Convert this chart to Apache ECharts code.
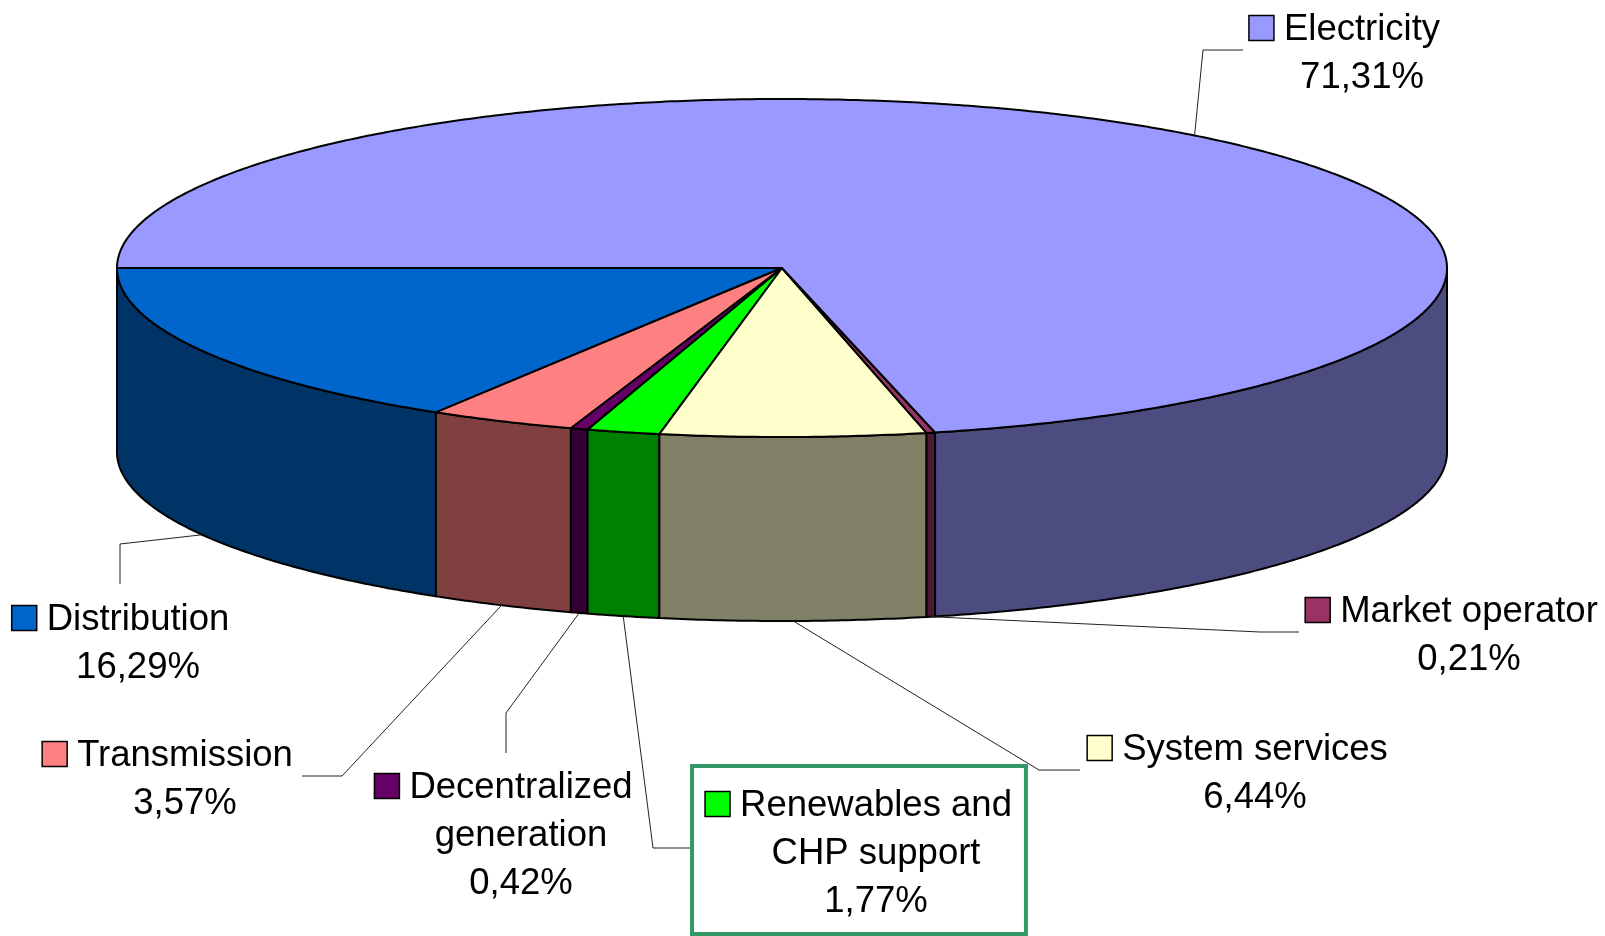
<!DOCTYPE html>
<html><head><meta charset="utf-8">
<script src="https://cdn.jsdelivr.net/npm/echarts@6/dist/echarts.min.js"></script>
<style>html,body{margin:0;padding:0;background:#fff}#chart{width:1605px;height:936px}</style>
</head><body><div id="chart"></div>
<script>
// ---- data ----
const categories = ['Distribution', 'Transmission', 'Decentralized\ngeneration', 'Renewables and\nCHP support', 'System services', 'Market operator', 'Electricity'];
const shares = [16.29, 3.57, 0.42, 1.77, 6.44, 0.21, 71.31];

// ---- styles / layout ----
const topColors  = ['#0066CC', '#FF8080', '#660066', '#00FF00', '#FFFFCC', '#993366', '#9999FF'];
const sideColors = ['#003366', '#804040', '#330033', '#008000', '#808066', '#4C1933', '#4C4C80'];
const PIE = { cx: 782, cy: 268, rx: 665, ry: 169, depth: 184, startDeg: 180 };
const labelPos = [[138, 620], [185, 756], [521, 788], [876, 806], [1255, 750], [1469, 612], [1362, 30]];
const leaderPts = [
  [[120, 544], [120, 584]],
  [[342, 776], [302, 776]],
  [[506, 713], [506, 753]],
  [[653, 848], [692, 848]],
  [[1039, 770], [1080, 770]],
  [[1260, 632], [1299, 632]],
  [[1203, 50], [1243, 50]]
];
const boxed = [false, false, false, true, false, false, false];
const FONT_SIZE = 36.5, LINE_H = 48;
const FONT = FONT_SIZE + 'px "Liberation Sans", Arial, sans-serif';

// ---- geometry from data ----
const total = shares.reduce((a, b) => a + b, 0);
const angles = [];
(function () {
  let cum = 0;
  shares.forEach(v => {
    const s = PIE.startDeg - cum / total * 360;
    cum += v;
    const e = PIE.startDeg - cum / total * 360;
    angles.push([s, e]);
  });
})();
const rad = d => d * Math.PI / 180;
function pt(t, dy) { return [PIE.cx + PIE.rx * Math.cos(rad(t)), PIE.cy + dy + PIE.ry * Math.sin(rad(t))]; }
function arc(t0, t1, dy) {
  const n = Math.max(2, Math.ceil(Math.abs(t1 - t0) / 0.5));
  const out = [];
  for (let i = 0; i <= n; i++) out.push(pt(t0 + (t1 - t0) * i / n, dy));
  return out;
}

const measureCtx = document.createElement('canvas').getContext('2d');
measureCtx.font = FONT;

function renderSide(params) {
  const i = params.dataIndex;
  const [s, e] = angles[i];
  const a = Math.max(e, 0), b = Math.min(s, 180);
  if (a >= b) return { type: 'group', children: [] };
  const points = arc(b, a, 0).concat(arc(a, b, PIE.depth));
  return {
    type: 'polygon', shape: { points },
    style: { fill: sideColors[i], stroke: '#000', lineWidth: 2, lineJoin: 'round' }
  };
}
function renderTop(params) {
  const i = params.dataIndex;
  const [s, e] = angles[i];
  const points = [[PIE.cx, PIE.cy]].concat(arc(s, e, 0));
  return {
    type: 'polygon', shape: { points },
    style: { fill: topColors[i], stroke: '#000', lineWidth: 2, lineJoin: 'round' }
  };
}
function renderLabel(params) {
  const i = params.dataIndex;
  const [s, e] = angles[i];
  const mid = (s + e) / 2;
  const m = ((mid % 360) + 360) % 360;
  const front = m > 0 && m < 180;
  const anchor = pt(mid, front ? PIE.depth : 0);
  const lines = categories[i].split('\n').concat([shares[i].toFixed(2).replace('.', ',') + '%']);
  const [tx, ty] = labelPos[i];
  const w0 = measureCtx.measureText(lines[0]).width;
  let maxW = 0; lines.forEach(l => { maxW = Math.max(maxW, measureCtx.measureText(l).width); });
  const keySize = 25, gap = 10;
  const keyX = tx - w0 / 2 - gap - keySize;
  const children = [];
  children.push({
    type: 'polyline', shape: { points: [anchor].concat(leaderPts[i]) },
    style: { stroke: '#222', lineWidth: 1, fill: null }
  });
  if (boxed[i]) {
    const left = keyX - 13, right = tx + maxW / 2 + 14;
    const top = ty - 40, bottom = ty + (lines.length - 1) * LINE_H + 32;
    children.push({
      type: 'rect', shape: { x: left, y: top, width: right - left, height: bottom - top },
      style: { fill: '#fff', stroke: '#339966', lineWidth: 4 }
    });
  }
  children.push({
    type: 'rect', shape: { x: keyX, y: ty - 2 - keySize / 2, width: keySize, height: keySize },
    style: { fill: topColors[i], stroke: '#000', lineWidth: 1.5 }
  });
  children.push({
    type: 'text',
    style: {
      text: lines.join('\n'), x: tx, y: ty - LINE_H / 2,
      fill: '#000', font: FONT, align: 'center', verticalAlign: 'top', lineHeight: LINE_H
    }
  });
  return { type: 'group', children };
}

const chart = echarts.init(document.getElementById('chart'), null, { renderer: 'canvas' });
chart.setOption({
  animation: false,
  backgroundColor: '#fff',
  series: [
    { type: 'custom', coordinateSystem: 'none', z: 1, silent: true, data: shares, renderItem: renderSide },
    { type: 'custom', coordinateSystem: 'none', z: 2, silent: true, data: shares, renderItem: renderTop },
    { type: 'custom', coordinateSystem: 'none', z: 3, silent: true, data: shares, renderItem: renderLabel }
  ]
});
</script>
</body></html>
